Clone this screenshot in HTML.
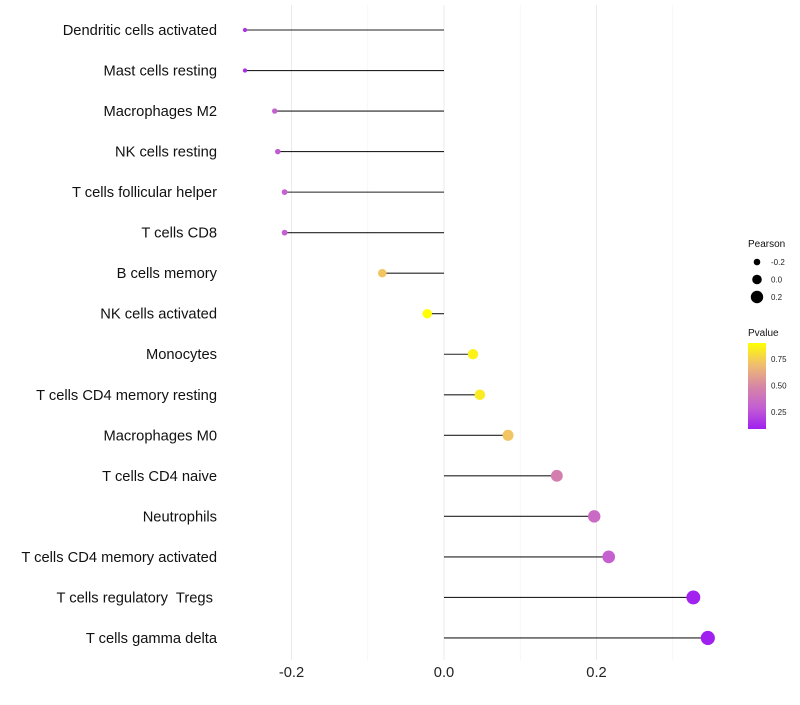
<!DOCTYPE html>
<html><head><meta charset="utf-8"><style>
body{margin:0;background:#fff;font-family:"Liberation Sans",sans-serif}
</style></head><body>
<svg id="c" width="800" height="700" xmlns="http://www.w3.org/2000/svg"></svg>
<script>
const categories=["Dendritic cells activated","Mast cells resting","Macrophages M2","NK cells resting","T cells follicular helper","T cells CD8","B cells memory","NK cells activated","Monocytes","T cells CD4 memory resting","Macrophages M0","T cells CD4 naive","Neutrophils","T cells CD4 memory activated","T cells regulatory  Tregs ","T cells gamma delta"];
const pearson=[-0.261,-0.261,-0.222,-0.218,-0.209,-0.209,-0.081,-0.022,0.038,0.047,0.084,0.148,0.197,0.216,0.327,0.346];
const pvalues=[0.15,0.13,0.3,0.28,0.3,0.3,0.72,0.9,0.86,0.84,0.72,0.45,0.35,0.3,0.1,0.09];
const xTicks=[-0.2,0,0.2];
const xTickLabels=["-0.2","0.0","0.2"];
const sizeLegend=[-0.2,0.0,0.2];
const pLegendTicks=[0.25,0.5,0.75];
const NS="http://www.w3.org/2000/svg";
const svg=document.getElementById('c');
const x=v=>444+v*762.5;
const y=i=>30+i*40.53;
const r=v=>Math.sqrt(3+(v+0.28)*75);
const pmin=0.09,pmax=0.9;
const stops=[[160,32,240],[195,95,210],[215,135,165],[240,190,110],[255,255,0]];
function col(p){let t=Math.max(0,Math.min(1,(p-pmin)/(pmax-pmin)))*4;let i=Math.min(3,Math.floor(t)),f=t-i;const a=stops[i],b=stops[i+1];return `rgb(${a.map((c,k)=>Math.round(c+(b[k]-c)*f)).join(',')})`;}
function el(t,at,txt){const e=document.createElementNS(NS,t);for(const k in at)e.setAttribute(k,at[k]);if(txt!=null)e.textContent=txt;svg.appendChild(e);return e;}
[-0.1,0.1,0.3].forEach(v=>{const g=el('line',{x1:x(v),x2:x(v),y1:5,y2:660,stroke:'#f2f2f2','stroke-width':0.6});

});
xTicks.forEach((v,i)=>{const g=el('line',{x1:x(v),x2:x(v),y1:5,y2:660,stroke:'#ebebeb','stroke-width':1});


const t=el('text',{x:x(v),y:677,'text-anchor':'middle','font-size':14.7,fill:'#222'},xTickLabels[i]);

});
categories.forEach((c,i)=>{
const t=el('text',{x:217,y:y(i)+5,'text-anchor':'end','font-size':14.7,fill:'#111','xml:space':'preserve',style:'white-space:pre'},c);


const l=el('line',{x1:x(0),x2:x(pearson[i]),y1:y(i),y2:y(i),stroke:'#222','stroke-width':1.1});


const p=el('circle',{cx:x(pearson[i]),cy:y(i),r:r(pearson[i]),fill:col(pvalues[i])});


});
let t=el('text',{x:748,y:247,'font-size':10,fill:'#111'},'Pearson');


sizeLegend.forEach((v,i)=>{const cy=262+i*17.5;
const c=el('circle',{cx:757,cy:cy,r:[3.3,4.8,6.2][i],fill:'#000'});


const tt=el('text',{x:771,y:cy+3,'font-size':8,fill:'#222'},v.toFixed(1));

});
t=el('text',{x:748,y:336,'font-size':10,fill:'#111'},'Pvalue');


const defs=el('defs',{});const lg=document.createElementNS(NS,'linearGradient');lg.setAttribute('id','g');lg.setAttribute('x1',0);lg.setAttribute('y1',1);lg.setAttribute('x2',0);lg.setAttribute('y2',0);
stops.forEach((s,i)=>{const st=document.createElementNS(NS,'stop');st.setAttribute('offset',i/4);st.setAttribute('stop-color',`rgb(${s})`);lg.appendChild(st);});defs.appendChild(lg);
const bar=el('rect',{x:748,y:343,width:18,height:86,fill:'url(#g)'});


pLegendTicks.forEach(v=>{const cy=429-(v-pmin)/(pmax-pmin)*86;
const tt=el('text',{x:771,y:cy+3,'font-size':8,fill:'#222'},v.toFixed(2));

});
</script>
</body></html>
